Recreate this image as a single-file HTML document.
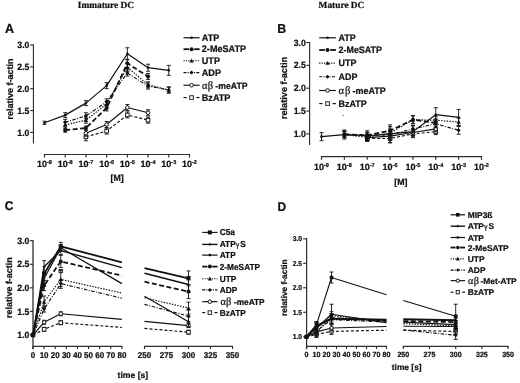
<!DOCTYPE html><html><head><meta charset="utf-8"><style>html,body{margin:0;padding:0;background:#fff;}svg{display:block;filter:blur(0.3px);}</style></head><body>
<svg width="520" height="383" viewBox="0 0 520 383">
<style>text{fill:#111;stroke:#111;stroke-width:0.22px;text-rendering:geometricPrecision;}</style>
<rect width="520" height="383" fill="#fff"/>
<text transform="translate(77.8,8.3) scale(1,1.0)" font-size="9.35" font-family='"Liberation Serif", serif' font-weight="bold" text-anchor="start" >Immature DC</text>
<text transform="translate(5,32.6) scale(1,1.05)" font-size="12.5" font-family='"Liberation Sans", sans-serif' font-weight="bold" text-anchor="start" >A</text>
<line x1="33.45" y1="44.4" x2="33.45" y2="143.4" stroke="#2e2e2e" stroke-width="1.15"/>
<line x1="30.2" y1="45" x2="33.45" y2="45" stroke="#2e2e2e" stroke-width="1.15"/>
<text transform="translate(29.4,48.1) scale(1,1.05)" font-size="8.7" font-family='"Liberation Sans", sans-serif' font-weight="bold" text-anchor="end" >3.0</text>
<line x1="30.2" y1="66.85" x2="33.45" y2="66.85" stroke="#2e2e2e" stroke-width="1.15"/>
<text transform="translate(29.4,69.95) scale(1,1.05)" font-size="8.7" font-family='"Liberation Sans", sans-serif' font-weight="bold" text-anchor="end" >2.5</text>
<line x1="30.2" y1="88.7" x2="33.45" y2="88.7" stroke="#2e2e2e" stroke-width="1.15"/>
<text transform="translate(29.4,91.8) scale(1,1.05)" font-size="8.7" font-family='"Liberation Sans", sans-serif' font-weight="bold" text-anchor="end" >2.0</text>
<line x1="30.2" y1="110.55" x2="33.45" y2="110.55" stroke="#2e2e2e" stroke-width="1.15"/>
<text transform="translate(29.4,113.65) scale(1,1.05)" font-size="8.7" font-family='"Liberation Sans", sans-serif' font-weight="bold" text-anchor="end" >1.5</text>
<line x1="30.2" y1="132.4" x2="33.45" y2="132.4" stroke="#2e2e2e" stroke-width="1.15"/>
<text transform="translate(29.4,135.5) scale(1,1.05)" font-size="8.7" font-family='"Liberation Sans", sans-serif' font-weight="bold" text-anchor="end" >1.0</text>
<text transform="translate(12.9,89.1) rotate(-90)" x="0" y="0" font-size="9.0" font-family='"Liberation Sans", sans-serif' font-weight="bold" text-anchor="middle">relative f-actin</text>
<line x1="44" y1="154.5" x2="190" y2="154.5" stroke="#2e2e2e" stroke-width="1.15"/>
<line x1="44.5" y1="154" x2="44.5" y2="157.6" stroke="#2e2e2e" stroke-width="1.15"/>
<text x="44.5" y="166.9" font-size="9" font-family='"Liberation Sans", sans-serif' font-weight="bold" text-anchor="middle">10<tspan font-size="5.58" dy="-2.43">-9</tspan></text>
<line x1="65.21" y1="154" x2="65.21" y2="157.6" stroke="#2e2e2e" stroke-width="1.15"/>
<text x="65.21" y="166.9" font-size="9" font-family='"Liberation Sans", sans-serif' font-weight="bold" text-anchor="middle">10<tspan font-size="5.58" dy="-2.43">-8</tspan></text>
<line x1="85.93" y1="154" x2="85.93" y2="157.6" stroke="#2e2e2e" stroke-width="1.15"/>
<text x="85.93" y="166.9" font-size="9" font-family='"Liberation Sans", sans-serif' font-weight="bold" text-anchor="middle">10<tspan font-size="5.58" dy="-2.43">-7</tspan></text>
<line x1="106.64" y1="154" x2="106.64" y2="157.6" stroke="#2e2e2e" stroke-width="1.15"/>
<text x="106.64" y="166.9" font-size="9" font-family='"Liberation Sans", sans-serif' font-weight="bold" text-anchor="middle">10<tspan font-size="5.58" dy="-2.43">-6</tspan></text>
<line x1="127.36" y1="154" x2="127.36" y2="157.6" stroke="#2e2e2e" stroke-width="1.15"/>
<text x="127.36" y="166.9" font-size="9" font-family='"Liberation Sans", sans-serif' font-weight="bold" text-anchor="middle">10<tspan font-size="5.58" dy="-2.43">-5</tspan></text>
<line x1="148.07" y1="154" x2="148.07" y2="157.6" stroke="#2e2e2e" stroke-width="1.15"/>
<text x="148.07" y="166.9" font-size="9" font-family='"Liberation Sans", sans-serif' font-weight="bold" text-anchor="middle">10<tspan font-size="5.58" dy="-2.43">-4</tspan></text>
<line x1="168.78" y1="154" x2="168.78" y2="157.6" stroke="#2e2e2e" stroke-width="1.15"/>
<text x="168.78" y="166.9" font-size="9" font-family='"Liberation Sans", sans-serif' font-weight="bold" text-anchor="middle">10<tspan font-size="5.58" dy="-2.43">-3</tspan></text>
<line x1="189.5" y1="154" x2="189.5" y2="157.6" stroke="#2e2e2e" stroke-width="1.15"/>
<text x="189.5" y="166.9" font-size="9" font-family='"Liberation Sans", sans-serif' font-weight="bold" text-anchor="middle">10<tspan font-size="5.58" dy="-2.43">-2</tspan></text>
<text transform="translate(117.1,180.9) scale(1,1.03)" font-size="8.8" font-family='"Liberation Sans", sans-serif' font-weight="bold" text-anchor="middle" >[M]</text>
<polyline points="44.5,122.79 65.21,115.14 85.93,103.12 106.64,85.64 127.36,53.74 148.07,67.72 168.78,70.35" fill="none" stroke="#111" stroke-width="1.2" stroke-linejoin="round"/>
<polyline points="65.21,130.22 85.93,128.03 106.64,107.93 127.36,63.35 148.07,76.46" fill="none" stroke="#111" stroke-width="1.8" stroke-dasharray="5,2.5" stroke-linejoin="round"/>
<polyline points="65.21,124.97 85.93,120.16 106.64,104 127.36,67.29 148.07,84.77 168.78,90.01" fill="none" stroke="#111" stroke-width="1.15" stroke-dasharray="1.5,1.3" stroke-linejoin="round"/>
<polyline points="65.21,122.35 85.93,115.79 106.64,101.81 127.36,72.97 148.07,86.08 168.78,90.01" fill="none" stroke="#111" stroke-width="1.15" stroke-dasharray="3.5,1.5,1,1.5" stroke-linejoin="round"/>
<polyline points="85.93,133.27 106.64,124.53 127.36,107.49 148.07,112.74" fill="none" stroke="#111" stroke-width="1.15" stroke-linejoin="round"/>
<polyline points="85.93,136.77 106.64,131.09 127.36,114.92 148.07,120.16" fill="none" stroke="#111" stroke-width="1.15" stroke-dasharray="3,2" stroke-linejoin="round"/>
<path d="M85.93 132.77V140.77M83.93 132.77H87.93M83.93 140.77H87.93" stroke="#111" stroke-width="0.9" fill="none"/>
<rect x="84.13" y="134.97" width="3.6" height="3.6" fill="#fff" stroke="#111" stroke-width="0.9"/>
<path d="M106.64 128.09V134.09M104.64 128.09H108.64M104.64 134.09H108.64" stroke="#111" stroke-width="0.9" fill="none"/>
<rect x="104.84" y="129.29" width="3.6" height="3.6" fill="#fff" stroke="#111" stroke-width="0.9"/>
<path d="M127.36 111.92V117.92M125.36 111.92H129.36M125.36 117.92H129.36" stroke="#111" stroke-width="0.9" fill="none"/>
<rect x="125.56" y="113.12" width="3.6" height="3.6" fill="#fff" stroke="#111" stroke-width="0.9"/>
<path d="M148.07 117.16V123.16M146.07 117.16H150.07M146.07 123.16H150.07" stroke="#111" stroke-width="0.9" fill="none"/>
<rect x="146.27" y="118.36" width="3.6" height="3.6" fill="#fff" stroke="#111" stroke-width="0.9"/>
<path d="M85.93 130.27V136.27M83.93 130.27H87.93M83.93 136.27H87.93" stroke="#111" stroke-width="0.9" fill="none"/>
<circle cx="85.93" cy="133.27" r="1.8" fill="#fff" stroke="#111" stroke-width="1"/>
<path d="M106.64 121.53V127.53M104.64 121.53H108.64M104.64 127.53H108.64" stroke="#111" stroke-width="0.9" fill="none"/>
<circle cx="106.64" cy="124.53" r="1.8" fill="#fff" stroke="#111" stroke-width="1"/>
<path d="M127.36 104.49V110.49M125.36 104.49H129.36M125.36 110.49H129.36" stroke="#111" stroke-width="0.9" fill="none"/>
<circle cx="127.36" cy="107.49" r="1.8" fill="#fff" stroke="#111" stroke-width="1"/>
<path d="M148.07 109.74V115.74M146.07 109.74H150.07M146.07 115.74H150.07" stroke="#111" stroke-width="0.9" fill="none"/>
<circle cx="148.07" cy="112.74" r="1.8" fill="#fff" stroke="#111" stroke-width="1"/>
<path d="M65.21 119.35V125.35M63.21 119.35H67.21M63.21 125.35H67.21" stroke="#111" stroke-width="0.9" fill="none"/>
<polygon points="65.21,120.35 67.21,122.35 65.21,124.35 63.21,122.35" fill="#111"/>
<path d="M85.93 112.79V118.79M83.93 112.79H87.93M83.93 118.79H87.93" stroke="#111" stroke-width="0.9" fill="none"/>
<polygon points="85.93,113.79 87.93,115.79 85.93,117.79 83.93,115.79" fill="#111"/>
<path d="M106.64 98.81V104.81M104.64 98.81H108.64M104.64 104.81H108.64" stroke="#111" stroke-width="0.9" fill="none"/>
<polygon points="106.64,99.81 108.64,101.81 106.64,103.81 104.64,101.81" fill="#111"/>
<path d="M127.36 69.97V75.97M125.36 69.97H129.36M125.36 75.97H129.36" stroke="#111" stroke-width="0.9" fill="none"/>
<polygon points="127.36,70.97 129.36,72.97 127.36,74.97 125.36,72.97" fill="#111"/>
<path d="M148.07 83.08V89.08M146.07 83.08H150.07M146.07 89.08H150.07" stroke="#111" stroke-width="0.9" fill="none"/>
<polygon points="148.07,84.08 150.07,86.08 148.07,88.08 146.07,86.08" fill="#111"/>
<path d="M168.78 87.01V93.01M166.78 87.01H170.78M166.78 93.01H170.78" stroke="#111" stroke-width="0.9" fill="none"/>
<polygon points="168.78,88.01 170.78,90.01 168.78,92.01 166.78,90.01" fill="#111"/>
<path d="M65.21 121.97V127.97M63.21 121.97H67.21M63.21 127.97H67.21" stroke="#111" stroke-width="0.9" fill="none"/>
<polygon points="65.21,122.77 67.41,126.73 63.01,126.73" fill="#111"/>
<path d="M85.93 117.16V123.16M83.93 117.16H87.93M83.93 123.16H87.93" stroke="#111" stroke-width="0.9" fill="none"/>
<polygon points="85.93,117.96 88.13,121.92 83.73,121.92" fill="#111"/>
<path d="M106.64 101V107M104.64 101H108.64M104.64 107H108.64" stroke="#111" stroke-width="0.9" fill="none"/>
<polygon points="106.64,101.8 108.84,105.76 104.44,105.76" fill="#111"/>
<path d="M127.36 63.29V71.29M125.36 63.29H129.36M125.36 71.29H129.36" stroke="#111" stroke-width="0.9" fill="none"/>
<polygon points="127.36,65.09 129.56,69.05 125.16,69.05" fill="#111"/>
<path d="M148.07 81.77V87.77M146.07 81.77H150.07M146.07 87.77H150.07" stroke="#111" stroke-width="0.9" fill="none"/>
<polygon points="148.07,82.57 150.27,86.53 145.87,86.53" fill="#111"/>
<path d="M168.78 87.01V93.01M166.78 87.01H170.78M166.78 93.01H170.78" stroke="#111" stroke-width="0.9" fill="none"/>
<polygon points="168.78,87.81 170.98,91.77 166.58,91.77" fill="#111"/>
<path d="M65.21 128.22V132.22M63.21 128.22H67.21M63.21 132.22H67.21" stroke="#111" stroke-width="0.9" fill="none"/>
<circle cx="65.21" cy="130.22" r="2" fill="#111"/>
<path d="M85.93 126.03V130.03M83.93 126.03H87.93M83.93 130.03H87.93" stroke="#111" stroke-width="0.9" fill="none"/>
<circle cx="85.93" cy="128.03" r="2" fill="#111"/>
<path d="M106.64 104.93V110.93M104.64 104.93H108.64M104.64 110.93H108.64" stroke="#111" stroke-width="0.9" fill="none"/>
<circle cx="106.64" cy="107.93" r="2" fill="#111"/>
<path d="M127.36 59.35V67.35M125.36 59.35H129.36M125.36 67.35H129.36" stroke="#111" stroke-width="0.9" fill="none"/>
<circle cx="127.36" cy="63.35" r="2" fill="#111"/>
<path d="M148.07 73.46V79.46M146.07 73.46H150.07M146.07 79.46H150.07" stroke="#111" stroke-width="0.9" fill="none"/>
<circle cx="148.07" cy="76.46" r="2" fill="#111"/>
<path d="M44.5 121.19V124.39M42.5 121.19H46.5M42.5 124.39H46.5" stroke="#111" stroke-width="0.9" fill="none"/>
<circle cx="44.5" cy="122.79" r="1.3" fill="#111"/>
<path d="M65.21 112.64V117.64M63.21 112.64H67.21M63.21 117.64H67.21" stroke="#111" stroke-width="0.9" fill="none"/>
<circle cx="65.21" cy="115.14" r="1.3" fill="#111"/>
<path d="M85.93 100.62V105.62M83.93 100.62H87.93M83.93 105.62H87.93" stroke="#111" stroke-width="0.9" fill="none"/>
<circle cx="85.93" cy="103.12" r="1.3" fill="#111"/>
<path d="M106.64 82.64V88.64M104.64 82.64H108.64M104.64 88.64H108.64" stroke="#111" stroke-width="0.9" fill="none"/>
<circle cx="106.64" cy="85.64" r="1.3" fill="#111"/>
<path d="M127.36 47.74V59.74M125.36 47.74H129.36M125.36 59.74H129.36" stroke="#111" stroke-width="0.9" fill="none"/>
<circle cx="127.36" cy="53.74" r="1.3" fill="#111"/>
<path d="M148.07 64.22V71.22M146.07 64.22H150.07M146.07 71.22H150.07" stroke="#111" stroke-width="0.9" fill="none"/>
<circle cx="148.07" cy="67.72" r="1.3" fill="#111"/>
<path d="M168.78 65.35V75.35M166.78 65.35H170.78M166.78 75.35H170.78" stroke="#111" stroke-width="0.9" fill="none"/>
<circle cx="168.78" cy="70.35" r="1.3" fill="#111"/>
<line x1="183.5" y1="37.75" x2="199.6" y2="37.75" stroke="#111" stroke-width="1.2"/>
<circle cx="191.55" cy="37.75" r="1.3" fill="#111"/>
<text transform="translate(201.8,41.03) scale(1,1.05)" font-size="9.1" font-family='"Liberation Sans", sans-serif' font-weight="bold" text-anchor="start" >ATP</text>
<line x1="183.5" y1="49.2" x2="188.97" y2="49.2" stroke="#111" stroke-width="1.8"/>
<line x1="194.13" y1="49.2" x2="199.6" y2="49.2" stroke="#111" stroke-width="1.8"/>
<circle cx="191.55" cy="49.2" r="2" fill="#111"/>
<text transform="translate(201.8,52.48) scale(1,1.05)" font-size="9.1" font-family='"Liberation Sans", sans-serif' font-weight="bold" text-anchor="start" >2-MeSATP</text>
<line x1="183.5" y1="60.7" x2="199.6" y2="60.7" stroke="#111" stroke-width="1.15" stroke-dasharray="1.2,1.2"/>
<polygon points="191.55,58.5 193.75,62.46 189.35,62.46" fill="#111"/>
<text transform="translate(201.8,63.98) scale(1,1.05)" font-size="9.1" font-family='"Liberation Sans", sans-serif' font-weight="bold" text-anchor="start" >UTP</text>
<line x1="183.5" y1="72.6" x2="199.6" y2="72.6" stroke="#111" stroke-width="1.15" stroke-dasharray="3,1.2,1,1.2"/>
<polygon points="191.55,70.6 193.55,72.6 191.55,74.6 189.55,72.6" fill="#111"/>
<text transform="translate(201.8,75.88) scale(1,1.05)" font-size="9.1" font-family='"Liberation Sans", sans-serif' font-weight="bold" text-anchor="start" >ADP</text>
<line x1="183.5" y1="85.25" x2="199.6" y2="85.25" stroke="#111" stroke-width="1.15"/>
<circle cx="191.55" cy="85.25" r="1.8" fill="#fff" stroke="#111" stroke-width="1"/>
<text transform="translate(201.8,88.53) scale(1,1.05)" font-size="9.1" font-family='"Liberation Sans", sans-serif' font-weight="bold" text-anchor="start" ><tspan x="0.1" font-family='"Liberation Serif", serif' font-weight="normal" font-size="10.6">α</tspan><tspan x="6" font-family='"Liberation Serif", serif' font-weight="normal" font-size="10.6">β</tspan><tspan x="13.5" font-size="8.7">-meATP</tspan></text>
<line x1="183.5" y1="97.55" x2="186.72" y2="97.55" stroke="#111" stroke-width="1.15"/>
<line x1="196.38" y1="97.55" x2="199.6" y2="97.55" stroke="#111" stroke-width="1.15"/>
<rect x="189.75" y="95.75" width="3.6" height="3.6" fill="#fff" stroke="#111" stroke-width="0.9"/>
<text transform="translate(201.8,100.83) scale(1,1.05)" font-size="9.1" font-family='"Liberation Sans", sans-serif' font-weight="bold" text-anchor="start" >BzATP</text>
<text transform="translate(318.6,8.3) scale(1,1.0)" font-size="9.35" font-family='"Liberation Serif", serif' font-weight="bold" text-anchor="start" >Mature DC</text>
<text transform="translate(277.3,32.6) scale(1,1.05)" font-size="12.4" font-family='"Liberation Sans", sans-serif' font-weight="bold" text-anchor="start" >B</text>
<line x1="309.6" y1="41.9" x2="309.6" y2="145" stroke="#2e2e2e" stroke-width="1.15"/>
<line x1="306.3" y1="42.5" x2="309.6" y2="42.5" stroke="#2e2e2e" stroke-width="1.15"/>
<text transform="translate(305.8,45.6) scale(1,1.05)" font-size="8.7" font-family='"Liberation Sans", sans-serif' font-weight="bold" text-anchor="end" >3.0</text>
<line x1="306.3" y1="65.35" x2="309.6" y2="65.35" stroke="#2e2e2e" stroke-width="1.15"/>
<text transform="translate(305.8,68.45) scale(1,1.05)" font-size="8.7" font-family='"Liberation Sans", sans-serif' font-weight="bold" text-anchor="end" >2.5</text>
<line x1="306.3" y1="88.2" x2="309.6" y2="88.2" stroke="#2e2e2e" stroke-width="1.15"/>
<text transform="translate(305.8,91.3) scale(1,1.05)" font-size="8.7" font-family='"Liberation Sans", sans-serif' font-weight="bold" text-anchor="end" >2.0</text>
<line x1="306.3" y1="111.05" x2="309.6" y2="111.05" stroke="#2e2e2e" stroke-width="1.15"/>
<text transform="translate(305.8,114.15) scale(1,1.05)" font-size="8.7" font-family='"Liberation Sans", sans-serif' font-weight="bold" text-anchor="end" >1.5</text>
<line x1="306.3" y1="133.9" x2="309.6" y2="133.9" stroke="#2e2e2e" stroke-width="1.15"/>
<text transform="translate(305.8,137) scale(1,1.05)" font-size="8.7" font-family='"Liberation Sans", sans-serif' font-weight="bold" text-anchor="end" >1.0</text>
<text transform="translate(287.2,88) rotate(-90)" x="0" y="0" font-size="9.2" font-family='"Liberation Sans", sans-serif' font-weight="bold" text-anchor="middle">relative f-actin</text>
<line x1="321" y1="156.6" x2="482" y2="156.6" stroke="#2e2e2e" stroke-width="1.15"/>
<line x1="321.5" y1="156" x2="321.5" y2="159.8" stroke="#2e2e2e" stroke-width="1.15"/>
<text x="321.5" y="169.6" font-size="9" font-family='"Liberation Sans", sans-serif' font-weight="bold" text-anchor="middle">10<tspan font-size="5.58" dy="-2.43">-9</tspan></text>
<line x1="344.36" y1="156" x2="344.36" y2="159.8" stroke="#2e2e2e" stroke-width="1.15"/>
<text x="344.36" y="169.6" font-size="9" font-family='"Liberation Sans", sans-serif' font-weight="bold" text-anchor="middle">10<tspan font-size="5.58" dy="-2.43">-8</tspan></text>
<line x1="367.21" y1="156" x2="367.21" y2="159.8" stroke="#2e2e2e" stroke-width="1.15"/>
<text x="367.21" y="169.6" font-size="9" font-family='"Liberation Sans", sans-serif' font-weight="bold" text-anchor="middle">10<tspan font-size="5.58" dy="-2.43">-7</tspan></text>
<line x1="390.07" y1="156" x2="390.07" y2="159.8" stroke="#2e2e2e" stroke-width="1.15"/>
<text x="390.07" y="169.6" font-size="9" font-family='"Liberation Sans", sans-serif' font-weight="bold" text-anchor="middle">10<tspan font-size="5.58" dy="-2.43">-6</tspan></text>
<line x1="412.93" y1="156" x2="412.93" y2="159.8" stroke="#2e2e2e" stroke-width="1.15"/>
<text x="412.93" y="169.6" font-size="9" font-family='"Liberation Sans", sans-serif' font-weight="bold" text-anchor="middle">10<tspan font-size="5.58" dy="-2.43">-5</tspan></text>
<line x1="435.78" y1="156" x2="435.78" y2="159.8" stroke="#2e2e2e" stroke-width="1.15"/>
<text x="435.78" y="169.6" font-size="9" font-family='"Liberation Sans", sans-serif' font-weight="bold" text-anchor="middle">10<tspan font-size="5.58" dy="-2.43">-4</tspan></text>
<line x1="458.64" y1="156" x2="458.64" y2="159.8" stroke="#2e2e2e" stroke-width="1.15"/>
<text x="458.64" y="169.6" font-size="9" font-family='"Liberation Sans", sans-serif' font-weight="bold" text-anchor="middle">10<tspan font-size="5.58" dy="-2.43">-3</tspan></text>
<line x1="481.5" y1="156" x2="481.5" y2="159.8" stroke="#2e2e2e" stroke-width="1.15"/>
<text x="481.5" y="169.6" font-size="9" font-family='"Liberation Sans", sans-serif' font-weight="bold" text-anchor="middle">10<tspan font-size="5.58" dy="-2.43">-2</tspan></text>
<text transform="translate(400.8,184.6) scale(1,1.0)" font-size="8.8" font-family='"Liberation Sans", sans-serif' font-weight="bold" text-anchor="middle" >[M]</text>
<polyline points="321.5,136.64 344.36,134.59 367.21,135.73 390.07,133.9 412.93,131.62 435.78,114.71 458.64,117.45" fill="none" stroke="#111" stroke-width="1.2" stroke-linejoin="round"/>
<polyline points="344.36,134.36 367.21,135.27 390.07,130.7 412.93,119.73 435.78,122.93" fill="none" stroke="#111" stroke-width="1.8" stroke-dasharray="5,2.5" stroke-linejoin="round"/>
<polyline points="344.36,134.81 367.21,137.1 390.07,132.99 412.93,119.73 435.78,120.19 458.64,122.02" fill="none" stroke="#111" stroke-width="1.15" stroke-dasharray="1.5,1.3" stroke-linejoin="round"/>
<polyline points="344.36,133.9 367.21,135.73 390.07,134.81 412.93,128.87 435.78,123.85 458.64,130.24" fill="none" stroke="#111" stroke-width="1.15" stroke-dasharray="3.5,1.5,1,1.5" stroke-linejoin="round"/>
<polyline points="367.21,137.56 390.07,136.19 412.93,132.53 435.78,128.87" fill="none" stroke="#111" stroke-width="1.15" stroke-linejoin="round"/>
<polyline points="367.21,138.47 390.07,138.47 412.93,133.9 435.78,131.62" fill="none" stroke="#111" stroke-width="1.15" stroke-dasharray="3,2" stroke-linejoin="round"/>
<path d="M367.21 135.47V141.47M365.21 135.47H369.21M365.21 141.47H369.21" stroke="#111" stroke-width="0.9" fill="none"/>
<rect x="365.41" y="136.67" width="3.6" height="3.6" fill="#fff" stroke="#111" stroke-width="0.9"/>
<path d="M390.07 134.47V142.47M388.07 134.47H392.07M388.07 142.47H392.07" stroke="#111" stroke-width="0.9" fill="none"/>
<rect x="388.27" y="136.67" width="3.6" height="3.6" fill="#fff" stroke="#111" stroke-width="0.9"/>
<path d="M412.93 130.9V136.9M410.93 130.9H414.93M410.93 136.9H414.93" stroke="#111" stroke-width="0.9" fill="none"/>
<rect x="411.13" y="132.1" width="3.6" height="3.6" fill="#fff" stroke="#111" stroke-width="0.9"/>
<path d="M435.78 128.62V134.62M433.78 128.62H437.78M433.78 134.62H437.78" stroke="#111" stroke-width="0.9" fill="none"/>
<rect x="433.98" y="129.81" width="3.6" height="3.6" fill="#fff" stroke="#111" stroke-width="0.9"/>
<path d="M367.21 134.56V140.56M365.21 134.56H369.21M365.21 140.56H369.21" stroke="#111" stroke-width="0.9" fill="none"/>
<circle cx="367.21" cy="137.56" r="1.8" fill="#fff" stroke="#111" stroke-width="1"/>
<path d="M390.07 132.19V140.19M388.07 132.19H392.07M388.07 140.19H392.07" stroke="#111" stroke-width="0.9" fill="none"/>
<circle cx="390.07" cy="136.19" r="1.8" fill="#fff" stroke="#111" stroke-width="1"/>
<path d="M412.93 129.53V135.53M410.93 129.53H414.93M410.93 135.53H414.93" stroke="#111" stroke-width="0.9" fill="none"/>
<circle cx="412.93" cy="132.53" r="1.8" fill="#fff" stroke="#111" stroke-width="1"/>
<path d="M435.78 125.87V131.87M433.78 125.87H437.78M433.78 131.87H437.78" stroke="#111" stroke-width="0.9" fill="none"/>
<circle cx="435.78" cy="128.87" r="1.8" fill="#fff" stroke="#111" stroke-width="1"/>
<path d="M344.36 130.9V136.9M342.36 130.9H346.36M342.36 136.9H346.36" stroke="#111" stroke-width="0.9" fill="none"/>
<polygon points="344.36,131.9 346.36,133.9 344.36,135.9 342.36,133.9" fill="#111"/>
<path d="M367.21 132.73V138.73M365.21 132.73H369.21M365.21 138.73H369.21" stroke="#111" stroke-width="0.9" fill="none"/>
<polygon points="367.21,133.73 369.21,135.73 367.21,137.73 365.21,135.73" fill="#111"/>
<path d="M390.07 130.81V138.81M388.07 130.81H392.07M388.07 138.81H392.07" stroke="#111" stroke-width="0.9" fill="none"/>
<polygon points="390.07,132.81 392.07,134.81 390.07,136.81 388.07,134.81" fill="#111"/>
<path d="M412.93 125.87V131.87M410.93 125.87H414.93M410.93 131.87H414.93" stroke="#111" stroke-width="0.9" fill="none"/>
<polygon points="412.93,126.87 414.93,128.87 412.93,130.87 410.93,128.87" fill="#111"/>
<path d="M435.78 119.85V127.85M433.78 119.85H437.78M433.78 127.85H437.78" stroke="#111" stroke-width="0.9" fill="none"/>
<polygon points="435.78,121.85 437.78,123.85 435.78,125.85 433.78,123.85" fill="#111"/>
<path d="M458.64 126.24V134.24M456.64 126.24H460.64M456.64 134.24H460.64" stroke="#111" stroke-width="0.9" fill="none"/>
<polygon points="458.64,128.24 460.64,130.24 458.64,132.24 456.64,130.24" fill="#111"/>
<path d="M344.36 131.81V137.81M342.36 131.81H346.36M342.36 137.81H346.36" stroke="#111" stroke-width="0.9" fill="none"/>
<polygon points="344.36,132.61 346.56,136.57 342.16,136.57" fill="#111"/>
<path d="M367.21 134.1V140.1M365.21 134.1H369.21M365.21 140.1H369.21" stroke="#111" stroke-width="0.9" fill="none"/>
<polygon points="367.21,134.9 369.41,138.86 365.01,138.86" fill="#111"/>
<path d="M390.07 128.99V136.99M388.07 128.99H392.07M388.07 136.99H392.07" stroke="#111" stroke-width="0.9" fill="none"/>
<polygon points="390.07,130.79 392.27,134.75 387.87,134.75" fill="#111"/>
<path d="M412.93 115.73V123.73M410.93 115.73H414.93M410.93 123.73H414.93" stroke="#111" stroke-width="0.9" fill="none"/>
<polygon points="412.93,117.53 415.13,121.49 410.73,121.49" fill="#111"/>
<path d="M435.78 116.19V124.19M433.78 116.19H437.78M433.78 124.19H437.78" stroke="#111" stroke-width="0.9" fill="none"/>
<polygon points="435.78,117.99 437.98,121.95 433.58,121.95" fill="#111"/>
<path d="M458.64 118.02V126.02M456.64 118.02H460.64M456.64 126.02H460.64" stroke="#111" stroke-width="0.9" fill="none"/>
<polygon points="458.64,119.82 460.84,123.78 456.44,123.78" fill="#111"/>
<path d="M344.36 131.36V137.36M342.36 131.36H346.36M342.36 137.36H346.36" stroke="#111" stroke-width="0.9" fill="none"/>
<circle cx="344.36" cy="134.36" r="2" fill="#111"/>
<path d="M367.21 132.27V138.27M365.21 132.27H369.21M365.21 138.27H369.21" stroke="#111" stroke-width="0.9" fill="none"/>
<circle cx="367.21" cy="135.27" r="2" fill="#111"/>
<path d="M390.07 126.7V134.7M388.07 126.7H392.07M388.07 134.7H392.07" stroke="#111" stroke-width="0.9" fill="none"/>
<circle cx="390.07" cy="130.7" r="2" fill="#111"/>
<path d="M412.93 115.73V123.73M410.93 115.73H414.93M410.93 123.73H414.93" stroke="#111" stroke-width="0.9" fill="none"/>
<circle cx="412.93" cy="119.73" r="2" fill="#111"/>
<path d="M435.78 118.93V126.93M433.78 118.93H437.78M433.78 126.93H437.78" stroke="#111" stroke-width="0.9" fill="none"/>
<circle cx="435.78" cy="122.93" r="2" fill="#111"/>
<path d="M321.5 132.64V140.64M319.5 132.64H323.5M319.5 140.64H323.5" stroke="#111" stroke-width="0.9" fill="none"/>
<circle cx="321.5" cy="136.64" r="1.3" fill="#111"/>
<path d="M344.36 130.09V139.09M342.36 130.09H346.36M342.36 139.09H346.36" stroke="#111" stroke-width="0.9" fill="none"/>
<circle cx="344.36" cy="134.59" r="1.3" fill="#111"/>
<path d="M367.21 130.73V140.73M365.21 130.73H369.21M365.21 140.73H369.21" stroke="#111" stroke-width="0.9" fill="none"/>
<circle cx="367.21" cy="135.73" r="1.3" fill="#111"/>
<path d="M390.07 124.9V142.9M388.07 124.9H392.07M388.07 142.9H392.07" stroke="#111" stroke-width="0.9" fill="none"/>
<circle cx="390.07" cy="133.9" r="1.3" fill="#111"/>
<path d="M412.93 125.62V137.62M410.93 125.62H414.93M410.93 137.62H414.93" stroke="#111" stroke-width="0.9" fill="none"/>
<circle cx="412.93" cy="131.62" r="1.3" fill="#111"/>
<path d="M435.78 107.71V121.71M433.78 107.71H437.78M433.78 121.71H437.78" stroke="#111" stroke-width="0.9" fill="none"/>
<circle cx="435.78" cy="114.71" r="1.3" fill="#111"/>
<path d="M458.64 109.45V125.45M456.64 109.45H460.64M456.64 125.45H460.64" stroke="#111" stroke-width="0.9" fill="none"/>
<circle cx="458.64" cy="117.45" r="1.3" fill="#111"/>
<line x1="319.2" y1="37.8" x2="335.9" y2="37.8" stroke="#111" stroke-width="1.2"/>
<circle cx="327.55" cy="37.8" r="1.3" fill="#111"/>
<text transform="translate(338.5,41.02) scale(1,1.05)" font-size="8.95" font-family='"Liberation Sans", sans-serif' font-weight="bold" text-anchor="start" >ATP</text>
<line x1="319.2" y1="50" x2="324.88" y2="50" stroke="#111" stroke-width="1.8"/>
<line x1="330.22" y1="50" x2="335.9" y2="50" stroke="#111" stroke-width="1.8"/>
<circle cx="327.55" cy="50" r="2" fill="#111"/>
<text transform="translate(338.5,53.22) scale(1,1.05)" font-size="8.95" font-family='"Liberation Sans", sans-serif' font-weight="bold" text-anchor="start" >2-MeSATP</text>
<line x1="319.2" y1="63.1" x2="335.9" y2="63.1" stroke="#111" stroke-width="1.15" stroke-dasharray="1.2,1.2"/>
<polygon points="327.55,60.9 329.75,64.86 325.35,64.86" fill="#111"/>
<text transform="translate(338.5,66.32) scale(1,1.05)" font-size="8.95" font-family='"Liberation Sans", sans-serif' font-weight="bold" text-anchor="start" >UTP</text>
<line x1="319.2" y1="76.7" x2="335.9" y2="76.7" stroke="#111" stroke-width="1.15" stroke-dasharray="3,1.2,1,1.2"/>
<polygon points="327.55,74.7 329.55,76.7 327.55,78.7 325.55,76.7" fill="#111"/>
<text transform="translate(338.5,79.92) scale(1,1.05)" font-size="8.95" font-family='"Liberation Sans", sans-serif' font-weight="bold" text-anchor="start" >ADP</text>
<line x1="319.2" y1="90.5" x2="335.9" y2="90.5" stroke="#111" stroke-width="1.15"/>
<circle cx="327.55" cy="90.5" r="1.8" fill="#fff" stroke="#111" stroke-width="1"/>
<text transform="translate(338.5,93.72) scale(1,1.05)" font-size="8.95" font-family='"Liberation Sans", sans-serif' font-weight="bold" text-anchor="start" ><tspan x="0" font-family='"Liberation Serif", serif' font-weight="normal" font-size="10.6">α</tspan><tspan x="6.4" font-family='"Liberation Serif", serif' font-weight="normal" font-size="10.6">β</tspan><tspan x="14">-meATP</tspan></text>
<line x1="319.2" y1="103.6" x2="322.54" y2="103.6" stroke="#111" stroke-width="1.15"/>
<line x1="332.56" y1="103.6" x2="335.9" y2="103.6" stroke="#111" stroke-width="1.15"/>
<rect x="325.75" y="101.8" width="3.6" height="3.6" fill="#fff" stroke="#111" stroke-width="0.9"/>
<text transform="translate(338.5,106.82) scale(1,1.05)" font-size="8.95" font-family='"Liberation Sans", sans-serif' font-weight="bold" text-anchor="start" >BzATP</text>
<text transform="translate(4.7,209.6) scale(1,1.05)" font-size="12" font-family='"Liberation Sans", sans-serif' font-weight="bold" text-anchor="start" >C</text>
<line x1="33" y1="240.1" x2="33" y2="349.3" stroke="#2e2e2e" stroke-width="1.3"/>
<line x1="29.9" y1="240.7" x2="33" y2="240.7" stroke="#2e2e2e" stroke-width="1.15"/>
<text transform="translate(29.4,243.8) scale(1,1.05)" font-size="8.7" font-family='"Liberation Sans", sans-serif' font-weight="bold" text-anchor="end" >3.0</text>
<line x1="29.9" y1="264.27" x2="33" y2="264.27" stroke="#2e2e2e" stroke-width="1.15"/>
<text transform="translate(29.4,267.38) scale(1,1.05)" font-size="8.7" font-family='"Liberation Sans", sans-serif' font-weight="bold" text-anchor="end" >2.5</text>
<line x1="29.9" y1="287.85" x2="33" y2="287.85" stroke="#2e2e2e" stroke-width="1.15"/>
<text transform="translate(29.4,290.95) scale(1,1.05)" font-size="8.7" font-family='"Liberation Sans", sans-serif' font-weight="bold" text-anchor="end" >2.0</text>
<line x1="29.9" y1="311.43" x2="33" y2="311.43" stroke="#2e2e2e" stroke-width="1.15"/>
<text transform="translate(29.4,314.53) scale(1,1.05)" font-size="8.7" font-family='"Liberation Sans", sans-serif' font-weight="bold" text-anchor="end" >1.5</text>
<line x1="29.9" y1="335" x2="33" y2="335" stroke="#2e2e2e" stroke-width="1.15"/>
<text transform="translate(29.4,338.1) scale(1,1.05)" font-size="8.7" font-family='"Liberation Sans", sans-serif' font-weight="bold" text-anchor="end" >1.0</text>
<text transform="translate(11.7,287.6) rotate(-90)" x="0" y="0" font-size="8.95" font-family='"Liberation Sans", sans-serif' font-weight="bold" text-anchor="middle">relative f-actin</text>
<line x1="33" y1="346.4" x2="122.2" y2="346.4" stroke="#2e2e2e" stroke-width="1.15"/>
<line x1="33" y1="346" x2="33" y2="349" stroke="#2e2e2e" stroke-width="1.15"/>
<text transform="translate(33,357.8) scale(1,1.05)" font-size="8" font-family='"Liberation Sans", sans-serif' font-weight="bold" text-anchor="middle" >0</text>
<line x1="44.11" y1="346" x2="44.11" y2="349" stroke="#2e2e2e" stroke-width="1.15"/>
<text transform="translate(44.11,357.8) scale(1,1.05)" font-size="8" font-family='"Liberation Sans", sans-serif' font-weight="bold" text-anchor="middle" >10</text>
<line x1="55.22" y1="346" x2="55.22" y2="349" stroke="#2e2e2e" stroke-width="1.15"/>
<text transform="translate(55.22,357.8) scale(1,1.05)" font-size="8" font-family='"Liberation Sans", sans-serif' font-weight="bold" text-anchor="middle" >20</text>
<line x1="66.33" y1="346" x2="66.33" y2="349" stroke="#2e2e2e" stroke-width="1.15"/>
<text transform="translate(66.33,357.8) scale(1,1.05)" font-size="8" font-family='"Liberation Sans", sans-serif' font-weight="bold" text-anchor="middle" >30</text>
<line x1="77.44" y1="346" x2="77.44" y2="349" stroke="#2e2e2e" stroke-width="1.15"/>
<text transform="translate(77.44,357.8) scale(1,1.05)" font-size="8" font-family='"Liberation Sans", sans-serif' font-weight="bold" text-anchor="middle" >40</text>
<line x1="88.55" y1="346" x2="88.55" y2="349" stroke="#2e2e2e" stroke-width="1.15"/>
<text transform="translate(88.55,357.8) scale(1,1.05)" font-size="8" font-family='"Liberation Sans", sans-serif' font-weight="bold" text-anchor="middle" >50</text>
<line x1="99.66" y1="346" x2="99.66" y2="349" stroke="#2e2e2e" stroke-width="1.15"/>
<text transform="translate(99.66,357.8) scale(1,1.05)" font-size="8" font-family='"Liberation Sans", sans-serif' font-weight="bold" text-anchor="middle" >60</text>
<line x1="110.77" y1="346" x2="110.77" y2="349" stroke="#2e2e2e" stroke-width="1.15"/>
<text transform="translate(110.77,357.8) scale(1,1.05)" font-size="8" font-family='"Liberation Sans", sans-serif' font-weight="bold" text-anchor="middle" >70</text>
<line x1="121.88" y1="346" x2="121.88" y2="349" stroke="#2e2e2e" stroke-width="1.15"/>
<text transform="translate(121.88,357.8) scale(1,1.05)" font-size="8" font-family='"Liberation Sans", sans-serif' font-weight="bold" text-anchor="middle" >80</text>
<line x1="144" y1="346.4" x2="233" y2="346.4" stroke="#2e2e2e" stroke-width="1.15"/>
<line x1="144.5" y1="346" x2="144.5" y2="349" stroke="#2e2e2e" stroke-width="1.15"/>
<text transform="translate(144.5,357.8) scale(1,1.05)" font-size="8" font-family='"Liberation Sans", sans-serif' font-weight="bold" text-anchor="middle" >250</text>
<line x1="166.5" y1="346" x2="166.5" y2="349" stroke="#2e2e2e" stroke-width="1.15"/>
<text transform="translate(166.5,357.8) scale(1,1.05)" font-size="8" font-family='"Liberation Sans", sans-serif' font-weight="bold" text-anchor="middle" >275</text>
<line x1="188.5" y1="346" x2="188.5" y2="349" stroke="#2e2e2e" stroke-width="1.15"/>
<text transform="translate(188.5,357.8) scale(1,1.05)" font-size="8" font-family='"Liberation Sans", sans-serif' font-weight="bold" text-anchor="middle" >300</text>
<line x1="210.5" y1="346" x2="210.5" y2="349" stroke="#2e2e2e" stroke-width="1.15"/>
<text transform="translate(210.5,357.8) scale(1,1.05)" font-size="8" font-family='"Liberation Sans", sans-serif' font-weight="bold" text-anchor="middle" >325</text>
<line x1="232.5" y1="346" x2="232.5" y2="349" stroke="#2e2e2e" stroke-width="1.15"/>
<text transform="translate(232.5,357.8) scale(1,1.05)" font-size="8" font-family='"Liberation Sans", sans-serif' font-weight="bold" text-anchor="middle" >350</text>
<text transform="translate(117.6,378.4) scale(1,1.0)" font-size="8.6" font-family='"Liberation Sans", sans-serif' font-weight="bold" text-anchor="start" >time [s]</text>
<polyline points="33,335 44.11,273.7 60.77,246.36 121.88,262.39" fill="none" stroke="#111" stroke-width="1.8" stroke-linejoin="round"/>
<polyline points="144.5,268.05 188.5,278.42" fill="none" stroke="#111" stroke-width="1.8" stroke-linejoin="round"/>
<polyline points="33,335 44.11,266.63 60.77,250.6 121.88,267.58" fill="none" stroke="#111" stroke-width="1.4" stroke-linejoin="round"/>
<polyline points="144.5,273.23 188.5,284.55" fill="none" stroke="#111" stroke-width="1.4" stroke-linejoin="round"/>
<polyline points="33,335 44.11,278.42 60.77,247.77 121.88,283.61" fill="none" stroke="#111" stroke-width="1.2" stroke-linejoin="round"/>
<polyline points="144.5,296.34 188.5,321.8" fill="none" stroke="#111" stroke-width="1.2" stroke-linejoin="round"/>
<polyline points="33,335 44.11,285.49 60.77,261.45 121.88,275.59" fill="none" stroke="#111" stroke-width="1.8" stroke-dasharray="5,2.5" stroke-linejoin="round"/>
<polyline points="144.5,281.72 188.5,291.62" fill="none" stroke="#111" stroke-width="1.8" stroke-dasharray="5,2.5" stroke-linejoin="round"/>
<polyline points="33,335 44.11,302 60.77,279.36 121.88,293.04" fill="none" stroke="#111" stroke-width="1.15" stroke-dasharray="1.5,1.3" stroke-linejoin="round"/>
<polyline points="144.5,297.75 188.5,308.12" fill="none" stroke="#111" stroke-width="1.15" stroke-dasharray="1.5,1.3" stroke-linejoin="round"/>
<polyline points="33,335 44.11,309.07 60.77,283.61 121.88,298.22" fill="none" stroke="#111" stroke-width="1.15" stroke-dasharray="3.5,1.5,1,1.5" stroke-linejoin="round"/>
<polyline points="144.5,304.35 188.5,316.14" fill="none" stroke="#111" stroke-width="1.15" stroke-dasharray="3.5,1.5,1,1.5" stroke-linejoin="round"/>
<polyline points="33,335 44.11,322.27 60.77,313.78 121.88,319.44" fill="none" stroke="#111" stroke-width="1.15" stroke-linejoin="round"/>
<polyline points="144.5,321.33 188.5,325.57" fill="none" stroke="#111" stroke-width="1.15" stroke-linejoin="round"/>
<polyline points="33,335 44.11,329.34 60.77,322.74 121.88,327.46" fill="none" stroke="#111" stroke-width="1.15" stroke-dasharray="3,2" stroke-linejoin="round"/>
<polyline points="144.5,328.4 188.5,332.17" fill="none" stroke="#111" stroke-width="1.15" stroke-dasharray="3,2" stroke-linejoin="round"/>
<rect x="31.2" y="333.2" width="3.6" height="3.6" fill="#fff" stroke="#111" stroke-width="0.9"/>
<path d="M44.11 327.34V331.34M42.11 327.34H46.11M42.11 331.34H46.11" stroke="#111" stroke-width="0.9" fill="none"/>
<rect x="42.31" y="327.54" width="3.6" height="3.6" fill="#fff" stroke="#111" stroke-width="0.9"/>
<path d="M60.77 320.74V324.74M58.77 320.74H62.77M58.77 324.74H62.77" stroke="#111" stroke-width="0.9" fill="none"/>
<rect x="58.98" y="320.94" width="3.6" height="3.6" fill="#fff" stroke="#111" stroke-width="0.9"/>
<path d="M188.5 330.17V334.17M186.5 330.17H190.5M186.5 334.17H190.5" stroke="#111" stroke-width="0.9" fill="none"/>
<rect x="186.7" y="330.37" width="3.6" height="3.6" fill="#fff" stroke="#111" stroke-width="0.9"/>
<circle cx="33" cy="335" r="1.8" fill="#fff" stroke="#111" stroke-width="1"/>
<path d="M44.11 320.27V324.27M42.11 320.27H46.11M42.11 324.27H46.11" stroke="#111" stroke-width="0.9" fill="none"/>
<circle cx="44.11" cy="322.27" r="1.8" fill="#fff" stroke="#111" stroke-width="1"/>
<path d="M60.77 311.78V315.78M58.77 311.78H62.77M58.77 315.78H62.77" stroke="#111" stroke-width="0.9" fill="none"/>
<circle cx="60.77" cy="313.78" r="1.8" fill="#fff" stroke="#111" stroke-width="1"/>
<path d="M188.5 323.57V327.57M186.5 323.57H190.5M186.5 327.57H190.5" stroke="#111" stroke-width="0.9" fill="none"/>
<circle cx="188.5" cy="325.57" r="1.8" fill="#fff" stroke="#111" stroke-width="1"/>
<polygon points="33,333 35,335 33,337 31,335" fill="#111"/>
<path d="M44.11 306.07V312.07M42.11 306.07H46.11M42.11 312.07H46.11" stroke="#111" stroke-width="0.9" fill="none"/>
<polygon points="44.11,307.07 46.11,309.07 44.11,311.07 42.11,309.07" fill="#111"/>
<path d="M60.77 280.61V286.61M58.77 280.61H62.77M58.77 286.61H62.77" stroke="#111" stroke-width="0.9" fill="none"/>
<polygon points="60.77,281.61 62.77,283.61 60.77,285.61 58.77,283.61" fill="#111"/>
<path d="M188.5 310.14V322.14M186.5 310.14H190.5M186.5 322.14H190.5" stroke="#111" stroke-width="0.9" fill="none"/>
<polygon points="188.5,314.14 190.5,316.14 188.5,318.14 186.5,316.14" fill="#111"/>
<rect x="59.16" y="269.48" width="3.24" height="3.24" fill="#fff" stroke="#111" stroke-width="0.9"/>
<polygon points="33,332.8 35.2,336.76 30.8,336.76" fill="#111"/>
<path d="M44.11 296V308M42.11 296H46.11M42.11 308H46.11" stroke="#111" stroke-width="0.9" fill="none"/>
<polygon points="44.11,299.8 46.31,303.75 41.91,303.75" fill="#111"/>
<path d="M60.77 270.36V288.36M58.77 270.36H62.77M58.77 288.36H62.77" stroke="#111" stroke-width="0.9" fill="none"/>
<polygon points="60.77,277.16 62.98,281.12 58.57,281.12" fill="#111"/>
<path d="M188.5 302.12V314.12M186.5 302.12H190.5M186.5 314.12H190.5" stroke="#111" stroke-width="0.9" fill="none"/>
<polygon points="188.5,305.92 190.7,309.88 186.3,309.88" fill="#111"/>
<circle cx="33" cy="335" r="2" fill="#111"/>
<path d="M44.11 280.49V290.49M42.11 280.49H46.11M42.11 290.49H46.11" stroke="#111" stroke-width="0.9" fill="none"/>
<circle cx="44.11" cy="285.49" r="2" fill="#111"/>
<path d="M60.77 255.45V267.45M58.77 255.45H62.77M58.77 267.45H62.77" stroke="#111" stroke-width="0.9" fill="none"/>
<circle cx="60.77" cy="261.45" r="2" fill="#111"/>
<path d="M188.5 284.62V298.62M186.5 284.62H190.5M186.5 298.62H190.5" stroke="#111" stroke-width="0.9" fill="none"/>
<circle cx="188.5" cy="291.62" r="2" fill="#111"/>
<circle cx="33" cy="335" r="1.3" fill="#111"/>
<path d="M44.11 273.42V283.42M42.11 273.42H46.11M42.11 283.42H46.11" stroke="#111" stroke-width="0.9" fill="none"/>
<circle cx="44.11" cy="278.42" r="1.3" fill="#111"/>
<path d="M60.77 244.77V250.77M58.77 244.77H62.77M58.77 250.77H62.77" stroke="#111" stroke-width="0.9" fill="none"/>
<circle cx="60.77" cy="247.77" r="1.3" fill="#111"/>
<path d="M188.5 316.8V326.8M186.5 316.8H190.5M186.5 326.8H190.5" stroke="#111" stroke-width="0.9" fill="none"/>
<circle cx="188.5" cy="321.8" r="1.3" fill="#111"/>
<path d="M31.4 335H34.6M33 333.4V336.6" stroke="#111" stroke-width="0.8"/>
<path d="M44.11 260.63V272.63M42.11 260.63H46.11M42.11 272.63H46.11" stroke="#111" stroke-width="0.9" fill="none"/>
<path d="M42.51 266.63H45.71M44.11 265.03V268.23" stroke="#111" stroke-width="0.8"/>
<path d="M60.77 246.6V254.6M58.77 246.6H62.77M58.77 254.6H62.77" stroke="#111" stroke-width="0.9" fill="none"/>
<path d="M59.17 250.6H62.38M60.77 249V252.2" stroke="#111" stroke-width="0.8"/>
<path d="M188.5 276.55V292.55M186.5 276.55H190.5M186.5 292.55H190.5" stroke="#111" stroke-width="0.9" fill="none"/>
<path d="M186.9 284.55H190.1M188.5 282.95V286.15" stroke="#111" stroke-width="0.8"/>
<rect x="31" y="333" width="4" height="4" fill="#111"/>
<rect x="42.11" y="271.7" width="4" height="4" fill="#111"/>
<path d="M60.77 242.36V250.36M58.77 242.36H62.77M58.77 250.36H62.77" stroke="#111" stroke-width="0.9" fill="none"/>
<rect x="58.77" y="244.36" width="4" height="4" fill="#111"/>
<path d="M188.5 270.92V285.92M186.5 270.92H190.5M186.5 285.92H190.5" stroke="#111" stroke-width="0.9" fill="none"/>
<rect x="186.5" y="276.42" width="4" height="4" fill="#111"/>
<circle cx="343.1" cy="115.4" r="0.6" fill="#555"/>
<line x1="202.2" y1="232.4" x2="217.5" y2="232.4" stroke="#111" stroke-width="1.1"/>
<rect x="207.85" y="230.4" width="4" height="4" fill="#111"/>
<text transform="translate(219.7,235.39) scale(1,1.05)" font-size="8.3" font-family='"Liberation Sans", sans-serif' font-weight="bold" text-anchor="start" >C5a</text>
<line x1="202.2" y1="244.4" x2="217.5" y2="244.4" stroke="#111" stroke-width="1.4"/>
<path d="M208.25 244.4H211.45M209.85 242.8V246" stroke="#111" stroke-width="0.8"/>
<text transform="translate(219.7,247.39) scale(1,1.05)" font-size="8.3" font-family='"Liberation Sans", sans-serif' font-weight="bold" text-anchor="start" >ATP<tspan font-family='"Liberation Serif", serif' font-weight="normal" font-size="7.89">γ</tspan><tspan dx="1">S</tspan></text>
<line x1="202.2" y1="255.1" x2="217.5" y2="255.1" stroke="#111" stroke-width="1.2"/>
<circle cx="209.85" cy="255.1" r="1.3" fill="#111"/>
<text transform="translate(219.7,258.09) scale(1,1.05)" font-size="8.3" font-family='"Liberation Sans", sans-serif' font-weight="bold" text-anchor="start" >ATP</text>
<line x1="202.2" y1="266.6" x2="207.4" y2="266.6" stroke="#111" stroke-width="1.8"/>
<line x1="212.3" y1="266.6" x2="217.5" y2="266.6" stroke="#111" stroke-width="1.8"/>
<circle cx="209.85" cy="266.6" r="2" fill="#111"/>
<text transform="translate(219.7,269.59) scale(1,1.05)" font-size="8.3" font-family='"Liberation Sans", sans-serif' font-weight="bold" text-anchor="start" >2-MeSATP</text>
<line x1="202.2" y1="278.7" x2="217.5" y2="278.7" stroke="#111" stroke-width="1.15" stroke-dasharray="1.2,1.2"/>
<polygon points="209.85,276.5 212.05,280.46 207.65,280.46" fill="#111"/>
<text transform="translate(219.7,281.69) scale(1,1.05)" font-size="8.3" font-family='"Liberation Sans", sans-serif' font-weight="bold" text-anchor="start" >UTP</text>
<line x1="202.2" y1="289.9" x2="217.5" y2="289.9" stroke="#111" stroke-width="1.15" stroke-dasharray="3,1.2,1,1.2"/>
<polygon points="209.85,287.9 211.85,289.9 209.85,291.9 207.85,289.9" fill="#111"/>
<text transform="translate(219.7,292.89) scale(1,1.05)" font-size="8.3" font-family='"Liberation Sans", sans-serif' font-weight="bold" text-anchor="start" >ADP</text>
<line x1="202.2" y1="301.7" x2="217.5" y2="301.7" stroke="#111" stroke-width="1.15"/>
<circle cx="209.85" cy="301.7" r="1.8" fill="#fff" stroke="#111" stroke-width="1"/>
<text transform="translate(219.7,304.69) scale(1,1.05)" font-size="8.3" font-family='"Liberation Sans", sans-serif' font-weight="bold" text-anchor="start" ><tspan x="0.9" font-family='"Liberation Serif", serif' font-weight="normal" font-size="10.4">α</tspan><tspan x="6.3" font-family='"Liberation Serif", serif' font-weight="normal" font-size="10.4">β</tspan><tspan x="14.2">-meATP</tspan></text>
<line x1="202.2" y1="312.6" x2="205.26" y2="312.6" stroke="#111" stroke-width="1.15"/>
<line x1="214.44" y1="312.6" x2="217.5" y2="312.6" stroke="#111" stroke-width="1.15"/>
<rect x="208.05" y="310.8" width="3.6" height="3.6" fill="#fff" stroke="#111" stroke-width="0.9"/>
<text transform="translate(219.7,315.59) scale(1,1.05)" font-size="8.3" font-family='"Liberation Sans", sans-serif' font-weight="bold" text-anchor="start" >BzATP</text>
<text transform="translate(277.6,210.8) scale(1,1.05)" font-size="12" font-family='"Liberation Sans", sans-serif' font-weight="bold" text-anchor="start" >D</text>
<line x1="306.6" y1="238.2" x2="306.6" y2="349.3" stroke="#2e2e2e" stroke-width="1.25"/>
<line x1="303.2" y1="238.8" x2="306.6" y2="238.8" stroke="#2e2e2e" stroke-width="1.15"/>
<text transform="translate(302.1,241.1) scale(1,1.05)" font-size="6.8" font-family='"Liberation Sans", sans-serif' font-weight="bold" text-anchor="end" >3.0</text>
<line x1="303.2" y1="263.3" x2="306.6" y2="263.3" stroke="#2e2e2e" stroke-width="1.15"/>
<text transform="translate(302.1,265.6) scale(1,1.05)" font-size="6.8" font-family='"Liberation Sans", sans-serif' font-weight="bold" text-anchor="end" >2.5</text>
<line x1="303.2" y1="287.8" x2="306.6" y2="287.8" stroke="#2e2e2e" stroke-width="1.15"/>
<text transform="translate(302.1,290.1) scale(1,1.05)" font-size="6.8" font-family='"Liberation Sans", sans-serif' font-weight="bold" text-anchor="end" >2.0</text>
<line x1="303.2" y1="312.3" x2="306.6" y2="312.3" stroke="#2e2e2e" stroke-width="1.15"/>
<text transform="translate(302.1,314.6) scale(1,1.05)" font-size="6.8" font-family='"Liberation Sans", sans-serif' font-weight="bold" text-anchor="end" >1.5</text>
<line x1="303.2" y1="336.8" x2="306.6" y2="336.8" stroke="#2e2e2e" stroke-width="1.15"/>
<text transform="translate(302.1,339.1) scale(1,1.05)" font-size="6.8" font-family='"Liberation Sans", sans-serif' font-weight="bold" text-anchor="end" >1.0</text>
<text transform="translate(287,287.7) rotate(-90)" x="0" y="0" font-size="8.35" font-family='"Liberation Sans", sans-serif' font-weight="bold" text-anchor="middle">relative f-actin</text>
<line x1="306.6" y1="346.4" x2="387" y2="346.4" stroke="#2e2e2e" stroke-width="1.15"/>
<line x1="306.5" y1="346" x2="306.5" y2="349" stroke="#2e2e2e" stroke-width="1.15"/>
<text transform="translate(306.5,357) scale(1,1.05)" font-size="7.1" font-family='"Liberation Sans", sans-serif' font-weight="bold" text-anchor="middle" >0</text>
<line x1="316.5" y1="346" x2="316.5" y2="349" stroke="#2e2e2e" stroke-width="1.15"/>
<text transform="translate(316.5,357) scale(1,1.05)" font-size="7.1" font-family='"Liberation Sans", sans-serif' font-weight="bold" text-anchor="middle" >10</text>
<line x1="326.5" y1="346" x2="326.5" y2="349" stroke="#2e2e2e" stroke-width="1.15"/>
<text transform="translate(326.5,357) scale(1,1.05)" font-size="7.1" font-family='"Liberation Sans", sans-serif' font-weight="bold" text-anchor="middle" >20</text>
<line x1="336.5" y1="346" x2="336.5" y2="349" stroke="#2e2e2e" stroke-width="1.15"/>
<text transform="translate(336.5,357) scale(1,1.05)" font-size="7.1" font-family='"Liberation Sans", sans-serif' font-weight="bold" text-anchor="middle" >30</text>
<line x1="346.5" y1="346" x2="346.5" y2="349" stroke="#2e2e2e" stroke-width="1.15"/>
<text transform="translate(346.5,357) scale(1,1.05)" font-size="7.1" font-family='"Liberation Sans", sans-serif' font-weight="bold" text-anchor="middle" >40</text>
<line x1="356.5" y1="346" x2="356.5" y2="349" stroke="#2e2e2e" stroke-width="1.15"/>
<text transform="translate(356.5,357) scale(1,1.05)" font-size="7.1" font-family='"Liberation Sans", sans-serif' font-weight="bold" text-anchor="middle" >50</text>
<line x1="366.5" y1="346" x2="366.5" y2="349" stroke="#2e2e2e" stroke-width="1.15"/>
<text transform="translate(366.5,357) scale(1,1.05)" font-size="7.1" font-family='"Liberation Sans", sans-serif' font-weight="bold" text-anchor="middle" >60</text>
<line x1="376.5" y1="346" x2="376.5" y2="349" stroke="#2e2e2e" stroke-width="1.15"/>
<text transform="translate(376.5,357) scale(1,1.05)" font-size="7.1" font-family='"Liberation Sans", sans-serif' font-weight="bold" text-anchor="middle" >70</text>
<line x1="386.5" y1="346" x2="386.5" y2="349" stroke="#2e2e2e" stroke-width="1.15"/>
<text transform="translate(386.5,357) scale(1,1.05)" font-size="7.1" font-family='"Liberation Sans", sans-serif' font-weight="bold" text-anchor="middle" >80</text>
<line x1="402.8" y1="346.4" x2="508.5" y2="346.4" stroke="#2e2e2e" stroke-width="1.15"/>
<line x1="403.3" y1="346" x2="403.3" y2="349" stroke="#2e2e2e" stroke-width="1.15"/>
<text transform="translate(403.3,357) scale(1,1.05)" font-size="7.1" font-family='"Liberation Sans", sans-serif' font-weight="bold" text-anchor="middle" >250</text>
<line x1="429.5" y1="346" x2="429.5" y2="349" stroke="#2e2e2e" stroke-width="1.15"/>
<text transform="translate(429.5,357) scale(1,1.05)" font-size="7.1" font-family='"Liberation Sans", sans-serif' font-weight="bold" text-anchor="middle" >275</text>
<line x1="455.7" y1="346" x2="455.7" y2="349" stroke="#2e2e2e" stroke-width="1.15"/>
<text transform="translate(455.7,357) scale(1,1.05)" font-size="7.1" font-family='"Liberation Sans", sans-serif' font-weight="bold" text-anchor="middle" >300</text>
<line x1="481.9" y1="346" x2="481.9" y2="349" stroke="#2e2e2e" stroke-width="1.15"/>
<text transform="translate(481.9,357) scale(1,1.05)" font-size="7.1" font-family='"Liberation Sans", sans-serif' font-weight="bold" text-anchor="middle" >325</text>
<line x1="508.1" y1="346" x2="508.1" y2="349" stroke="#2e2e2e" stroke-width="1.15"/>
<text transform="translate(508.1,357) scale(1,1.05)" font-size="7.1" font-family='"Liberation Sans", sans-serif' font-weight="bold" text-anchor="middle" >350</text>
<text transform="translate(391.8,370.3) scale(1,1.0)" font-size="8.4" font-family='"Liberation Sans", sans-serif' font-weight="bold" text-anchor="start" >time [s]</text>
<polyline points="306.5,336.8 316.5,324.55 331.5,277.51 386.5,294.66" fill="none" stroke="#111" stroke-width="1.1" stroke-linejoin="round"/>
<polyline points="403.3,300.54 455.7,316.22" fill="none" stroke="#111" stroke-width="1.1" stroke-linejoin="round"/>
<polyline points="306.5,336.8 316.5,326.02 331.5,318.67 386.5,319.65" fill="none" stroke="#111" stroke-width="2.0" stroke-linejoin="round"/>
<polyline points="403.3,319.16 455.7,320.14" fill="none" stroke="#111" stroke-width="2.0" stroke-linejoin="round"/>
<polyline points="306.5,336.8 316.5,327.98 331.5,314.26 386.5,322.59" fill="none" stroke="#111" stroke-width="1.2" stroke-linejoin="round"/>
<polyline points="403.3,322.1 455.7,324.55" fill="none" stroke="#111" stroke-width="1.2" stroke-linejoin="round"/>
<polyline points="306.5,336.8 316.5,327 331.5,318.18 386.5,320.63" fill="none" stroke="#111" stroke-width="1.8" stroke-dasharray="5,2.5" stroke-linejoin="round"/>
<polyline points="403.3,321.12 455.7,322.1" fill="none" stroke="#111" stroke-width="1.8" stroke-dasharray="5,2.5" stroke-linejoin="round"/>
<polyline points="306.5,336.8 316.5,332.88 331.5,315.73 386.5,321.12" fill="none" stroke="#111" stroke-width="1.15" stroke-dasharray="1.5,1.3" stroke-linejoin="round"/>
<polyline points="403.3,323.57 455.7,326.02" fill="none" stroke="#111" stroke-width="1.15" stroke-dasharray="1.5,1.3" stroke-linejoin="round"/>
<polyline points="306.5,336.8 316.5,330.92 331.5,319.65 386.5,322.1" fill="none" stroke="#111" stroke-width="1.15" stroke-dasharray="3.5,1.5,1,1.5" stroke-linejoin="round"/>
<polyline points="403.3,329.94 455.7,335.33" fill="none" stroke="#111" stroke-width="1.15" stroke-dasharray="3.5,1.5,1,1.5" stroke-linejoin="round"/>
<polyline points="306.5,336.8 316.5,331.9 331.5,327.98 386.5,326.51" fill="none" stroke="#111" stroke-width="1.15" stroke-linejoin="round"/>
<polyline points="403.3,326.26 455.7,326.51" fill="none" stroke="#111" stroke-width="1.15" stroke-linejoin="round"/>
<polyline points="306.5,336.8 316.5,334.35 331.5,331.41 386.5,330.19" fill="none" stroke="#111" stroke-width="1.15" stroke-dasharray="3,2" stroke-linejoin="round"/>
<polyline points="403.3,330.19 455.7,331.41" fill="none" stroke="#111" stroke-width="1.15" stroke-dasharray="3,2" stroke-linejoin="round"/>
<rect x="304.88" y="335.18" width="3.24" height="3.24" fill="#fff" stroke="#111" stroke-width="0.9"/>
<path d="M316.5 331.35V337.35M314.5 331.35H318.5M314.5 337.35H318.5" stroke="#111" stroke-width="0.9" fill="none"/>
<rect x="314.88" y="332.73" width="3.24" height="3.24" fill="#fff" stroke="#111" stroke-width="0.9"/>
<path d="M331.5 328.41V334.41M329.5 328.41H333.5M329.5 334.41H333.5" stroke="#111" stroke-width="0.9" fill="none"/>
<rect x="329.88" y="329.79" width="3.24" height="3.24" fill="#fff" stroke="#111" stroke-width="0.9"/>
<path d="M455.7 328.41V334.41M453.7 328.41H457.7M453.7 334.41H457.7" stroke="#111" stroke-width="0.9" fill="none"/>
<rect x="454.08" y="329.79" width="3.24" height="3.24" fill="#fff" stroke="#111" stroke-width="0.9"/>
<circle cx="306.5" cy="336.8" r="1.62" fill="#fff" stroke="#111" stroke-width="1"/>
<path d="M316.5 328.9V334.9M314.5 328.9H318.5M314.5 334.9H318.5" stroke="#111" stroke-width="0.9" fill="none"/>
<circle cx="316.5" cy="331.9" r="1.62" fill="#fff" stroke="#111" stroke-width="1"/>
<path d="M331.5 324.98V330.98M329.5 324.98H333.5M329.5 330.98H333.5" stroke="#111" stroke-width="0.9" fill="none"/>
<circle cx="331.5" cy="327.98" r="1.62" fill="#fff" stroke="#111" stroke-width="1"/>
<path d="M455.7 323.51V329.51M453.7 323.51H457.7M453.7 329.51H457.7" stroke="#111" stroke-width="0.9" fill="none"/>
<circle cx="455.7" cy="326.51" r="1.62" fill="#fff" stroke="#111" stroke-width="1"/>
<polygon points="306.5,335 308.3,336.8 306.5,338.6 304.7,336.8" fill="#111"/>
<path d="M316.5 326.92V334.92M314.5 326.92H318.5M314.5 334.92H318.5" stroke="#111" stroke-width="0.9" fill="none"/>
<polygon points="316.5,329.12 318.3,330.92 316.5,332.72 314.7,330.92" fill="#111"/>
<path d="M331.5 315.65V323.65M329.5 315.65H333.5M329.5 323.65H333.5" stroke="#111" stroke-width="0.9" fill="none"/>
<polygon points="331.5,317.85 333.3,319.65 331.5,321.45 329.7,319.65" fill="#111"/>
<path d="M455.7 331.33V339.33M453.7 331.33H457.7M453.7 339.33H457.7" stroke="#111" stroke-width="0.9" fill="none"/>
<polygon points="455.7,333.53 457.5,335.33 455.7,337.13 453.9,335.33" fill="#111"/>
<polygon points="306.5,334.82 308.48,338.38 304.52,338.38" fill="#111"/>
<path d="M316.5 328.88V336.88M314.5 328.88H318.5M314.5 336.88H318.5" stroke="#111" stroke-width="0.9" fill="none"/>
<polygon points="316.5,330.9 318.48,334.46 314.52,334.46" fill="#111"/>
<path d="M331.5 311.73V319.73M329.5 311.73H333.5M329.5 319.73H333.5" stroke="#111" stroke-width="0.9" fill="none"/>
<polygon points="331.5,313.75 333.48,317.31 329.52,317.31" fill="#111"/>
<path d="M455.7 322.02V330.02M453.7 322.02H457.7M453.7 330.02H457.7" stroke="#111" stroke-width="0.9" fill="none"/>
<polygon points="455.7,324.04 457.68,327.6 453.72,327.6" fill="#111"/>
<circle cx="306.5" cy="336.8" r="1.8" fill="#111"/>
<path d="M316.5 323V331M314.5 323H318.5M314.5 331H318.5" stroke="#111" stroke-width="0.9" fill="none"/>
<circle cx="316.5" cy="327" r="1.8" fill="#111"/>
<path d="M331.5 314.18V322.18M329.5 314.18H333.5M329.5 322.18H333.5" stroke="#111" stroke-width="0.9" fill="none"/>
<circle cx="331.5" cy="318.18" r="1.8" fill="#111"/>
<path d="M455.7 318.1V326.1M453.7 318.1H457.7M453.7 326.1H457.7" stroke="#111" stroke-width="0.9" fill="none"/>
<circle cx="455.7" cy="322.1" r="1.8" fill="#111"/>
<circle cx="306.5" cy="336.8" r="1.17" fill="#111"/>
<path d="M316.5 322.98V332.98M314.5 322.98H318.5M314.5 332.98H318.5" stroke="#111" stroke-width="0.9" fill="none"/>
<circle cx="316.5" cy="327.98" r="1.17" fill="#111"/>
<path d="M331.5 304.26V324.26M329.5 304.26H333.5M329.5 324.26H333.5" stroke="#111" stroke-width="0.9" fill="none"/>
<circle cx="331.5" cy="314.26" r="1.17" fill="#111"/>
<path d="M455.7 320.55V328.55M453.7 320.55H457.7M453.7 328.55H457.7" stroke="#111" stroke-width="0.9" fill="none"/>
<circle cx="455.7" cy="324.55" r="1.17" fill="#111"/>
<path d="M305.06 336.8H307.94M306.5 335.36V338.24" stroke="#111" stroke-width="0.8"/>
<path d="M316.5 322.02V330.02M314.5 322.02H318.5M314.5 330.02H318.5" stroke="#111" stroke-width="0.9" fill="none"/>
<path d="M315.06 326.02H317.94M316.5 324.58V327.46" stroke="#111" stroke-width="0.8"/>
<path d="M331.5 313.67V323.67M329.5 313.67H333.5M329.5 323.67H333.5" stroke="#111" stroke-width="0.9" fill="none"/>
<path d="M330.06 318.67H332.94M331.5 317.23V320.11" stroke="#111" stroke-width="0.8"/>
<path d="M455.7 316.14V324.14M453.7 316.14H457.7M453.7 324.14H457.7" stroke="#111" stroke-width="0.9" fill="none"/>
<path d="M454.26 320.14H457.14M455.7 318.7V321.58" stroke="#111" stroke-width="0.8"/>
<rect x="304.7" y="335" width="3.6" height="3.6" fill="#111"/>
<path d="M316.5 321.55V327.55M314.5 321.55H318.5M314.5 327.55H318.5" stroke="#111" stroke-width="0.9" fill="none"/>
<rect x="314.7" y="322.75" width="3.6" height="3.6" fill="#111"/>
<path d="M331.5 272.01V283.01M329.5 272.01H333.5M329.5 283.01H333.5" stroke="#111" stroke-width="0.9" fill="none"/>
<rect x="329.7" y="275.71" width="3.6" height="3.6" fill="#111"/>
<path d="M455.7 304.22V328.22M453.7 304.22H457.7M453.7 328.22H457.7" stroke="#111" stroke-width="0.9" fill="none"/>
<rect x="453.9" y="314.42" width="3.6" height="3.6" fill="#111"/>
<line x1="450.6" y1="214.8" x2="465" y2="214.8" stroke="#111" stroke-width="1.2"/>
<rect x="456" y="213" width="3.6" height="3.6" fill="#111"/>
<text transform="translate(467.8,217.82) scale(1,1.0)" font-size="8.4" font-family='"Liberation Sans", sans-serif' font-weight="bold" text-anchor="start" >MIP3ß</text>
<line x1="450.6" y1="226.2" x2="465" y2="226.2" stroke="#111" stroke-width="1.4"/>
<path d="M456.36 226.2H459.24M457.8 224.76V227.64" stroke="#111" stroke-width="0.8"/>
<text transform="translate(467.8,229.22) scale(1,1.0)" font-size="8.4" font-family='"Liberation Sans", sans-serif' font-weight="bold" text-anchor="start" >ATP<tspan font-family='"Liberation Serif", serif' font-weight="normal" font-size="7.98">γ</tspan><tspan dx="1.01">S</tspan></text>
<line x1="450.6" y1="237.5" x2="465" y2="237.5" stroke="#111" stroke-width="1.2"/>
<circle cx="457.8" cy="237.5" r="1.17" fill="#111"/>
<text transform="translate(467.8,240.52) scale(1,1.0)" font-size="8.4" font-family='"Liberation Sans", sans-serif' font-weight="bold" text-anchor="start" >ATP</text>
<line x1="450.6" y1="247.55" x2="455.5" y2="247.55" stroke="#111" stroke-width="1.8"/>
<line x1="460.1" y1="247.55" x2="465" y2="247.55" stroke="#111" stroke-width="1.8"/>
<circle cx="457.8" cy="247.55" r="1.8" fill="#111"/>
<text transform="translate(467.8,250.57) scale(1,1.0)" font-size="8.4" font-family='"Liberation Sans", sans-serif' font-weight="bold" text-anchor="start" >2-MeSATP</text>
<line x1="450.6" y1="258.85" x2="465" y2="258.85" stroke="#111" stroke-width="1.15" stroke-dasharray="1.2,1.2"/>
<polygon points="457.8,256.87 459.78,260.43 455.82,260.43" fill="#111"/>
<text transform="translate(467.8,261.87) scale(1,1.0)" font-size="8.4" font-family='"Liberation Sans", sans-serif' font-weight="bold" text-anchor="start" >UTP</text>
<line x1="450.6" y1="270.05" x2="465" y2="270.05" stroke="#111" stroke-width="1.15" stroke-dasharray="3,1.2,1,1.2"/>
<polygon points="457.8,268.25 459.6,270.05 457.8,271.85 456,270.05" fill="#111"/>
<text transform="translate(467.8,273.07) scale(1,1.0)" font-size="8.4" font-family='"Liberation Sans", sans-serif' font-weight="bold" text-anchor="start" >ADP</text>
<line x1="450.6" y1="280.65" x2="465" y2="280.65" stroke="#111" stroke-width="1.15"/>
<circle cx="457.8" cy="280.65" r="1.62" fill="#fff" stroke="#111" stroke-width="1"/>
<text transform="translate(467.8,283.67) scale(1,1.0)" font-size="8.4" font-family='"Liberation Sans", sans-serif' font-weight="bold" text-anchor="start" ><tspan x="0.1" font-family='"Liberation Serif", serif' font-weight="normal" font-size="10.2">α</tspan><tspan x="5.9" font-family='"Liberation Serif", serif' font-weight="normal" font-size="10.2">β</tspan><tspan x="12.7">-Met-ATP</tspan></text>
<line x1="450.6" y1="292.2" x2="453.48" y2="292.2" stroke="#111" stroke-width="1.15"/>
<line x1="462.12" y1="292.2" x2="465" y2="292.2" stroke="#111" stroke-width="1.15"/>
<rect x="456.18" y="290.58" width="3.24" height="3.24" fill="#fff" stroke="#111" stroke-width="0.9"/>
<text transform="translate(467.8,295.22) scale(1,1.0)" font-size="8.4" font-family='"Liberation Sans", sans-serif' font-weight="bold" text-anchor="start" >BzATP</text>
</svg></body></html>
